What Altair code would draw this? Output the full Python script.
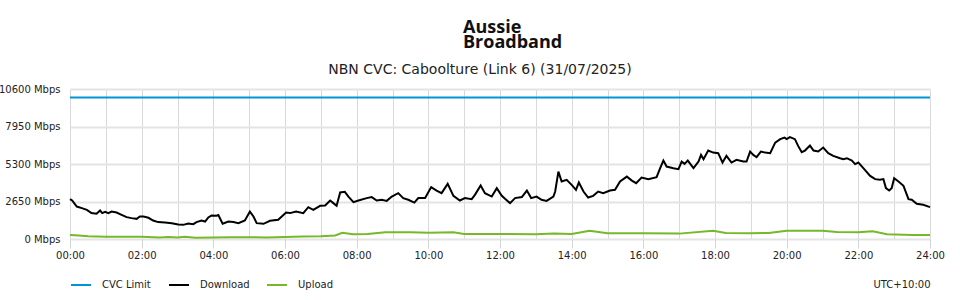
import altair as alt
import pandas as pd

# ---- data ----
dl_hours = [0.00,0.06,0.19,0.33,0.47,0.60,0.74,0.84,0.90,0.98,1.07,1.16,1.30,1.44,1.58,1.72,1.86,1.95,2.05,2.19,
            2.32,2.46,2.65,2.84,3.02,3.16,3.30,3.44,3.53,3.67,3.77,3.86,3.95,4.09,4.14,4.26,4.42,4.56,4.70,4.88,
            5.02,5.12,5.21,5.40,5.58,5.81,5.91,6.03,6.14,6.31,6.51,6.65,6.79,6.98,7.12,7.26,7.35,7.44,7.54,7.67,
            7.77,7.91,8.05,8.28,8.42,8.56,8.70,8.84,8.98,9.16,9.30,9.44,9.61,9.72,9.91,10.08,10.23,10.37,10.54,10.70,
            10.88,11.02,11.21,11.30,11.46,11.58,11.77,11.91,12.05,12.14,12.28,12.42,12.61,12.75,12.87,13.02,13.16,13.30,13.49,13.54,
            13.63,13.72,13.86,14.00,14.12,14.20,14.33,14.46,14.60,14.74,14.88,15.07,15.21,15.35,15.54,15.68,15.80,15.95,16.14,16.37,
            16.47,16.56,16.65,16.84,16.98,17.07,17.15,17.24,17.40,17.54,17.61,17.68,17.81,17.95,18.09,18.21,18.32,18.46,18.60,18.79,
            18.88,18.98,19.07,19.16,19.28,19.40,19.54,19.68,19.82,19.94,20.00,20.09,20.23,20.32,20.42,20.51,20.65,20.75,20.88,21.02,
            21.16,21.30,21.49,21.58,21.68,21.82,21.91,22.00,22.14,22.33,22.47,22.60,22.70,22.77,22.86,22.93,23.00,23.12,23.26,23.40,
            23.49,23.63,23.81,24.00]
dl_mbps = [2820,2720,2295,2180,2060,1830,1780,2010,1830,1920,1830,1940,1870,1710,1545,1475,1425,1590,1590,1500,
           1305,1195,1165,1120,1025,1000,1095,1050,1195,1305,1235,1520,1660,1640,1690,1075,1235,1195,1120,1305,
           1940,1590,1120,1075,1285,1355,1590,1870,1830,1940,1830,2250,2060,2345,2365,2720,2535,2345,3285,3330,
           3000,2605,2720,2890,2960,2720,2770,2695,3000,3240,2890,2770,2575,2890,2890,3665,3425,3240,3895,3050,
           2720,2890,2815,3120,3775,3240,3000,3595,3050,2840,2535,2890,2960,3425,2890,3000,2770,2695,3000,3355,
           4765,4060,4180,3825,3475,3990,3355,2930,3050,3355,3240,3425,3475,4060,4410,4130,3945,4340,4230,4370,
           5005,5540,5120,5005,4935,5470,5310,5540,5005,5470,5945,5640,6250,6105,6065,5400,5875,5400,5590,5470,
           5470,6180,5945,5780,6180,6105,6065,6815,7055,7165,7055,7195,7055,6580,6135,6250,6600,6250,6180,6460,
           6065,5875,5710,5640,5710,5540,5290,5400,5005,4460,4230,4180,4230,3595,3425,3595,4300,4060,3755,2815,
           2770,2485,2415,2250]

ul_hours = [0.0,0.25,0.5,1.0,2.0,2.5,2.75,3.0,3.2,3.5,4.0,4.5,5.0,5.5,6.0,6.5,7.0,7.4,7.6,7.9,8.3,8.8,9.5,10.0,
            10.7,11.0,12.0,13.0,13.5,14.0,14.5,15.0,16.0,17.0,17.95,18.3,19.0,19.5,20.0,21.0,21.4,22.0,22.4,22.8,23.5,24.0]
ul_mbps = [280,250,190,165,165,110,150,110,160,90,100,120,120,110,140,170,200,250,440,330,350,470,470,450,
           470,360,350,340,380,360,590,400,400,380,590,420,400,430,590,580,500,470,540,330,290,280]

cvc_hours = [0, 24]
cvc_mbps = [10000, 10000]

series_names = ["CVC Limit", "Download", "Upload"]
series_colors = ["#0096d6", "#000000", "#76b82a"]
y_ticks = [0, 2650, 5300, 7950, 10600]
x_grid = list(range(0, 25))

title_text = "NBN CVC: Caboolture (Link 6) (31/07/2025)"
logo_line1 = "Aussie"
logo_line2 = "Broadband"
tz_text = "UTC+10:00"

df = pd.concat([
    pd.DataFrame({"hour": cvc_hours, "mbps": cvc_mbps, "series": "CVC Limit"}),
    pd.DataFrame({"hour": dl_hours, "mbps": dl_mbps, "series": "Download"}),
    pd.DataFrame({"hour": ul_hours, "mbps": ul_mbps, "series": "Upload"}),
], ignore_index=True)

FONT = "DejaVu Sans"

x_axis = alt.Axis(
    values=x_grid,
    labelExpr="datum.value % 2 == 0 ? (datum.value < 10 ? '0' : '') + datum.value + ':00' : ''",
    labelOverlap=False, labelFlush=False,
    labelFont=FONT, labelFontSize=10, labelColor="#222222", labelPadding=2,
    tickSize=9, tickColor="#d4d4d4", tickWidth=1,
    tickOpacity={"condition": {"test": "datum.value % 2 == 1", "value": 0}, "value": 1},
    grid=True, gridColor="#d9d9d9", gridWidth=1,
    domain=False,
    title=tz_text, titleFont=FONT, titleFontSize=10, titleFontWeight="normal", titleColor="#222222",
    titleX=860, titleY=45, titleAlign="right", titleBaseline="middle", titleAnchor="end",
)
y_axis = alt.Axis(
    values=y_ticks, format="d", labelExpr="datum.label + ' Mbps'",
    labelFlush=False, labelOverlap=False,
    labelFont=FONT, labelFontSize=10, labelColor="#222222", labelPadding=10,
    ticks=False, domain=False,
    grid=True, gridColor="#e4e4e4", gridWidth=2,
    title=None,
)

lines = alt.Chart(df).mark_line(strokeWidth=2, interpolate="linear").encode(
    x=alt.X("hour:Q", scale=alt.Scale(domain=[0, 24], nice=False, zero=False), axis=x_axis),
    y=alt.Y("mbps:Q", scale=alt.Scale(domain=[0, 10600], nice=False), axis=y_axis),
    color=alt.Color("series:N",
                    scale=alt.Scale(domain=series_names, range=series_colors),
                    legend=alt.Legend(
                        title=None, orient="none", legendX=0, legendY=185,
                        direction="horizontal", columns=3, gridAlign="all",
                        symbolType="stroke", symbolSize=400, symbolStrokeWidth=2,
                        labelOffset=10, columnPadding=13, padding=0,
                        labelFont=FONT, labelFontSize=10, labelColor="#222222",
                    )),
)

title = alt.Chart(pd.DataFrame({"t": [title_text]})).mark_text(
    font=FONT, fontSize=14, color="#222222", align="center", baseline="alphabetic"
).encode(text="t:N", x=alt.value(410), y=alt.value(-15))

logo1 = alt.Chart(pd.DataFrame({"t": [logo_line1]})).mark_text(
    font="Open Sans", fontSize=18, fontWeight="bold", color="#111111", align="left", baseline="alphabetic"
).encode(text="t:N", x=alt.value(393), y=alt.value(-56))

logo2 = alt.Chart(pd.DataFrame({"t": [logo_line2]})).mark_text(
    font="Open Sans", fontSize=18, fontWeight="bold", color="#111111", align="left", baseline="alphabetic"
).encode(text="t:N", x=alt.value(393), y=alt.value(-41))

chart = alt.layer(lines, title, logo1, logo2).properties(
    width=860, height=150,
    autosize=alt.AutoSizeParams(type="none"),
    padding={"left": 70, "top": 89, "right": 30, "bottom": 61},
    background="white",
).configure_view(stroke=None)

chart.save("out.html", embed_options={"renderer": "svg", "actions": False})
